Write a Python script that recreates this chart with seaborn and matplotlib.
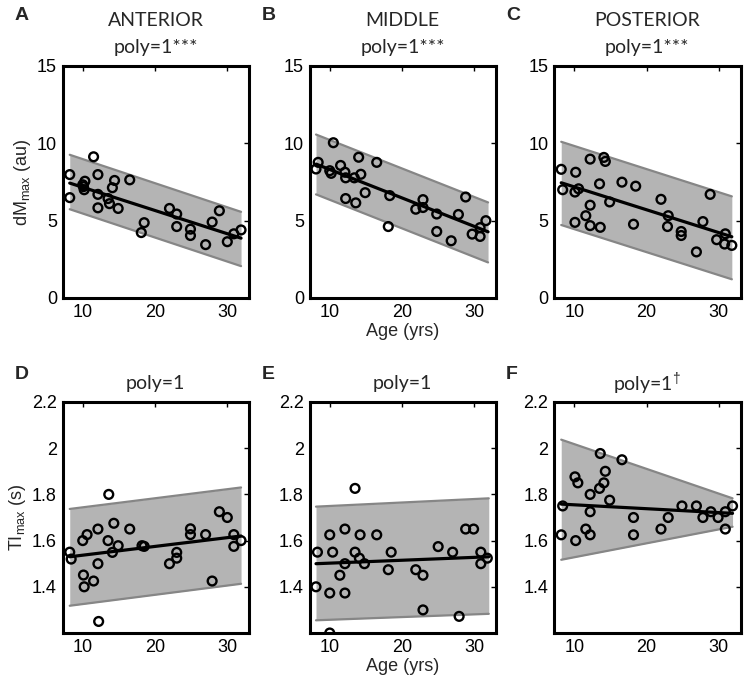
import numpy as np
import pandas as pd
import matplotlib
matplotlib.use("Agg")
import matplotlib.pyplot as plt
import seaborn as sns

# ---------------- data ----------------
# Panel A - ANTERIOR dMmax
a_age = [11.5, 8.2, 12.1, 10.3, 14.4, 16.5, 10.0, 14.1, 10.2, 10.1, 8.2, 12.1, 13.5, 13.7, 12.1,
         14.9, 18.5, 18.1, 22.0, 23.0, 23.0, 24.9, 24.9, 27.0, 27.9, 28.9, 30.0, 30.9, 31.9]
a_val = [9.13, 7.98, 7.98, 7.55, 7.60, 7.64, 7.32, 7.13, 7.00, 7.20, 6.49, 6.70, 6.43, 6.10, 5.83,
         5.79, 4.87, 4.23, 5.79, 5.43, 4.62, 4.45, 4.04, 3.45, 4.91, 5.64, 3.64, 4.15, 4.40]
a_fit_x = [8.2, 31.9]
a_fit_y = [7.43, 3.87]
a_band_hi = [9.26, 5.57]
a_band_lo = [5.74, 2.06]

# Panel B - MIDDLE dMmax
b_age = [10.5, 8.4, 8.1, 10.0, 10.2, 11.5, 12.1, 12.2, 14.0, 16.5, 14.3, 13.4, 14.9, 12.2, 13.6,
         18.3, 18.1, 21.9, 22.9, 22.9, 24.8, 24.8, 26.8, 27.8, 28.8, 29.7, 30.8, 30.8, 31.6]
b_val = [10.04, 8.77, 8.34, 8.23, 8.06, 8.57, 8.13, 7.77, 9.10, 8.77, 8.00, 7.77, 6.81, 6.43, 6.15,
         6.62, 4.62, 5.74, 6.36, 5.85, 5.43, 4.30, 3.70, 5.40, 6.53, 4.13, 4.55, 3.98, 5.00]
b_fit_x = [8.1, 31.9]
b_fit_y = [8.66, 4.28]
b_band_hi = [10.57, 6.18]
b_band_lo = [6.70, 2.30]

# Panel C - POSTERIOR dMmax
c_age = [8.2, 8.4, 10.2, 10.1, 10.6, 12.2, 14.1, 14.3, 13.5, 16.6, 18.5, 14.9, 12.2, 11.6, 10.1,
         12.2, 13.6, 18.2, 22.0, 23.0, 22.9, 24.8, 24.8, 26.9, 27.8, 28.8, 30.9, 29.7, 30.8, 31.8]
c_val = [8.32, 7.00, 8.13, 6.85, 7.06, 8.98, 9.09, 8.83, 7.38, 7.49, 7.23, 6.21, 6.00, 5.32, 4.89,
         4.68, 4.57, 4.77, 6.38, 5.32, 4.62, 4.30, 4.04, 2.98, 4.94, 6.70, 4.15, 3.77, 3.49, 3.40]
c_fit_x = [8.2, 31.8]
c_fit_y = [7.45, 3.96]
c_band_hi = [10.10, 6.57]
c_band_lo = [4.72, 1.21]

# Panel D - ANTERIOR TImax
d_age = [13.6, 8.2, 8.4, 10.0, 10.6, 12.1, 13.5, 14.3, 16.5, 14.9, 14.1, 18.2, 18.5, 12.1, 10.1,
         10.2, 11.5, 12.2, 22.0, 23.0, 23.0, 24.9, 24.9, 27.0, 27.9, 28.9, 30.0, 30.9, 30.9, 31.9]
d_val = [1.80, 1.55, 1.52, 1.60, 1.626, 1.65, 1.60, 1.675, 1.65, 1.578, 1.549, 1.578, 1.575, 1.50, 1.451,
         1.40, 1.425, 1.25, 1.50, 1.524, 1.549, 1.651, 1.626, 1.626, 1.425, 1.725, 1.70, 1.626, 1.575, 1.60]
d_fit_x = [8.2, 31.9]
d_fit_y = [1.53, 1.62]
d_band_hi = [1.737, 1.83]
d_band_lo = [1.318, 1.413]

# Panel E - MIDDLE TImax
e_age = [13.5, 8.1, 8.3, 10.0, 10.4, 12.1, 12.1, 12.1, 11.4, 10.0, 13.5, 14.1, 14.2, 14.8, 16.5,
         18.1, 18.5, 21.9, 22.9, 22.9, 25.0, 27.0, 27.9, 28.8, 29.9, 30.9, 30.9, 31.8, 10.0]
e_val = [1.826, 1.40, 1.55, 1.625, 1.55, 1.65, 1.50, 1.373, 1.45, 1.373, 1.55, 1.524, 1.625, 1.50, 1.625,
         1.474, 1.55, 1.474, 1.45, 1.30, 1.574, 1.55, 1.272, 1.65, 1.65, 1.55, 1.50, 1.524, 1.20]
e_fit_x = [8.1, 32.0]
e_fit_y = [1.50, 1.53]
e_band_hi = [1.747, 1.783]
e_band_lo = [1.255, 1.283]

# Panel F - POSTERIOR TImax
f_age = [8.2, 8.4, 10.1, 10.5, 10.2, 11.6, 12.2, 12.2, 12.2, 13.6, 14.3, 14.1, 13.5, 14.9, 16.6,
         18.2, 18.2, 22.0, 23.0, 24.9, 26.9, 27.8, 28.9, 29.9, 30.9, 30.9, 31.9]
f_val = [1.625, 1.75, 1.876, 1.85, 1.60, 1.65, 1.625, 1.80, 1.725, 1.977, 1.90, 1.85, 1.826, 1.775, 1.95,
         1.70, 1.625, 1.65, 1.70, 1.75, 1.75, 1.70, 1.725, 1.70, 1.725, 1.65, 1.75]
f_fit_x = [8.2, 31.9]
f_fit_y = [1.758, 1.718]
f_band_hi = [2.037, 1.783]
f_band_lo = [1.517, 1.66]

letters = ["A", "B", "C", "D", "E", "F"]
regions = ["ANTERIOR", "MIDDLE", "POSTERIOR"]
poly_titles = ["poly=1***", "poly=1***", "poly=1***", "poly=1", "poly=1", "poly=1$^{\\dagger}$"]
top_yticks = [0, 5, 10, 15]
bottom_yticks = [1.4, 1.6, 1.8, 2.0, 2.2]
xticks = [10, 20, 30]

panels = [
    (a_age, a_val, a_fit_x, a_fit_y, a_band_hi, a_band_lo),
    (b_age, b_val, b_fit_x, b_fit_y, b_band_hi, b_band_lo),
    (c_age, c_val, c_fit_x, c_fit_y, c_band_hi, c_band_lo),
    (d_age, d_val, d_fit_x, d_fit_y, d_band_hi, d_band_lo),
    (e_age, e_val, e_fit_x, e_fit_y, e_band_hi, e_band_lo),
    (f_age, f_val, f_fit_x, f_fit_y, f_band_hi, f_band_lo),
]

# ---------------- styling ----------------
sns.set_theme(style="white")
plt.rcParams["font.family"] = ["Liberation Sans", "DejaVu Sans"]
plt.rcParams["mathtext.fontset"] = "custom"
plt.rcParams["mathtext.rm"] = "Liberation Sans"
plt.rcParams["mathtext.it"] = "Liberation Sans:italic"
plt.rcParams["mathtext.bf"] = "Liberation Sans:bold"

W, H = 746, 680
fig = plt.figure(figsize=(W / 100, H / 100), dpi=100)
fig.patch.set_facecolor("white")

lefts = [62.5, 309.5, 554.0]
width = 186.5
rows = [(66.0, 298.0), (402.0, 633.0)]
title_font = ["Lato", "DejaVu Sans"]

for i, (age, val, fx, fy, bh, bl) in enumerate(panels):
    r, c = divmod(i, 3)
    top, bot = rows[r]
    ax = fig.add_axes([lefts[c] / W, 1 - bot / H, width / W, (bot - top) / H])
    ax.set_facecolor("white")

    ax.fill_between(fx, bl, bh, color="#b4b4b4", linewidth=0, zorder=1)
    sns.lineplot(x=fx, y=bh, ax=ax, color="#868686", linewidth=1.6, zorder=2)
    sns.lineplot(x=fx, y=bl, ax=ax, color="#868686", linewidth=1.6, zorder=2)
    sns.lineplot(x=fx, y=fy, ax=ax, color="black", linewidth=2.3, zorder=3)

    df = pd.DataFrame({"age": age, "val": val})
    sns.scatterplot(data=df, x="age", y="val", ax=ax, s=40, facecolor="none",
                    edgecolor="black", linewidth=1.7, zorder=4)

    ax.set_xlim(7.2, 33.0)
    ax.set_xticks(xticks)
    if r == 0:
        ax.set_ylim(0, 15)
        ax.set_yticks(top_yticks)
        ax.set_yticklabels([f"{v:g}" for v in top_yticks])
    else:
        ax.set_ylim(1.2, 2.2)
        ax.set_yticks(bottom_yticks)
        ax.set_yticklabels([f"{v:g}" for v in bottom_yticks])

    ax.tick_params(direction="in", length=3.5, width=1.0, top=True, right=True,
                   labelsize=13, pad=4, colors="black")
    for sp in ax.spines.values():
        sp.set_visible(True)
        sp.set_color("black")
        sp.set_linewidth(2.2)
    ax.set_xlabel("")
    ax.set_ylabel("")

    if c == 0:
        if r == 0:
            ax.set_ylabel("dM$_{\\mathrm{max}}$ (au)", fontsize=13, labelpad=3)
        else:
            ax.set_ylabel("TI$_{\\mathrm{max}}$ (s)", fontsize=13, labelpad=3)
    if c == 1:
        ax.set_xlabel("Age (yrs)", fontsize=13, labelpad=2)

    cx = (lefts[c] + width / 2) / W
    if r == 0:
        fig.text(cx, 1 - 20 / H, regions[c], ha="center", va="center",
                 fontsize=14, family=title_font)
        fig.text(cx, 1 - 48 / H, poly_titles[i], ha="center", va="center",
                 fontsize=14, family=title_font)
        fig.text((lefts[c] - 48) / W, 1 - 16 / H, letters[i], ha="left", va="center",
                 fontsize=14, fontweight="bold")
    else:
        fig.text(cx, 1 - 384 / H, poly_titles[i], ha="center", va="center",
                 fontsize=14, family=title_font)
        fig.text((lefts[c] - 48) / W, 1 - 374 / H, letters[i], ha="left", va="center",
                 fontsize=14, fontweight="bold")

fig.savefig("out.png", dpi=100, facecolor="white")
